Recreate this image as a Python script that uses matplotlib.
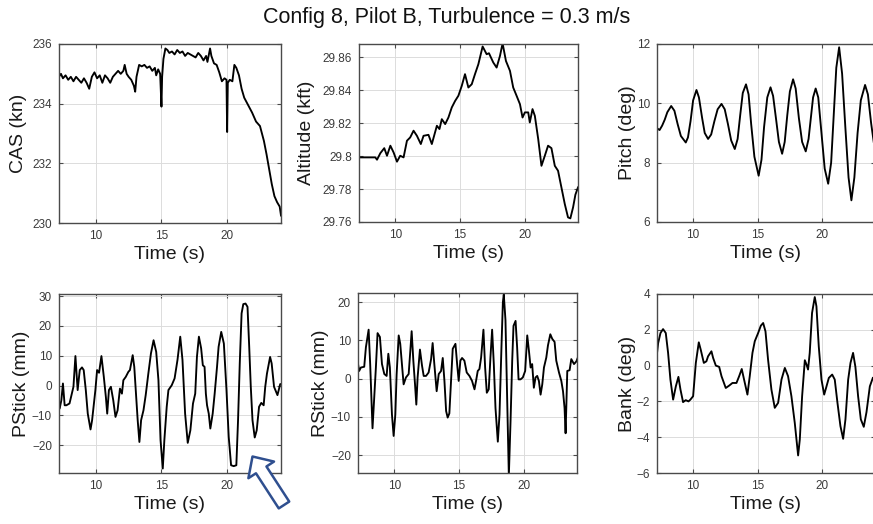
import matplotlib
matplotlib.use('Agg')
import matplotlib.pyplot as plt
from matplotlib.patches import FancyArrowPatch

plt.rcParams['font.family'] = ['Liberation Sans', 'DejaVu Sans']

# ---------------- data ----------------
cas_t = [7.2, 7.35, 7.5, 7.7, 7.9, 8.1, 8.3, 8.5, 8.7, 8.9, 9.1, 9.3, 9.5, 9.7, 9.9, 10.1, 10.3, 10.5,
         10.7, 10.9, 11.1, 11.3, 11.5, 11.7, 11.9, 12.1, 12.2, 12.35, 12.5, 12.7, 12.9, 13.0, 13.1, 13.3,
         13.5, 13.7, 13.9, 14.1, 14.3, 14.5, 14.6, 14.75, 14.9, 15.0, 15.05, 15.15, 15.3, 15.45, 15.6,
         15.8, 16.0, 16.2, 16.4, 16.6, 16.8, 17.0, 17.2, 17.4, 17.6, 17.8, 18.0, 18.2, 18.4, 18.5, 18.7,
         18.8, 19.0, 19.2, 19.4, 19.6, 19.8, 19.95, 20.0, 20.05, 20.2, 20.4, 20.55, 20.7, 20.9, 21.1,
         21.3, 21.6, 21.9, 22.2, 22.5, 22.8, 23.0, 23.2, 23.4, 23.6, 23.8, 24.0, 24.1]
cas_v = [234.9, 235.0, 234.85, 234.95, 234.8, 234.9, 234.75, 234.9, 234.8, 234.7, 234.85, 234.7, 234.5,
         234.9, 235.05, 234.85, 234.95, 234.7, 234.95, 234.85, 234.7, 234.9, 235.0, 235.1, 235.0, 235.1,
         235.3, 235.0, 234.9, 234.8, 234.6, 234.4, 234.9, 235.3, 235.25, 235.3, 235.2, 235.25, 235.1,
         235.2, 234.95, 235.15, 235.0, 233.9, 234.9, 235.5, 235.85, 235.8, 235.7, 235.75, 235.65, 235.8,
         235.7, 235.75, 235.6, 235.7, 235.65, 235.6, 235.55, 235.7, 235.6, 235.45, 235.6, 235.4, 235.85,
         235.6, 235.35, 235.3, 235.05, 234.75, 234.85, 234.8, 233.05, 234.7, 234.8, 234.75, 235.3, 235.2,
         234.95, 234.5, 234.2, 233.95, 233.7, 233.4, 233.25, 232.75, 232.3, 231.8, 231.3, 230.9, 230.7,
         230.55, 230.25]

alt_t = [7.23, 8.46, 8.59, 8.85, 9.15, 9.36, 9.62, 9.87, 10.13, 10.38, 10.64, 10.9, 11.15, 11.41, 11.67,
         11.97, 12.18, 12.56, 12.82, 13.21, 13.41, 13.59, 13.85, 14.1, 14.36, 14.62, 14.87, 15.13, 15.38,
         15.64, 15.9, 16.15, 16.41, 16.74, 17.05, 17.23, 17.56, 17.82, 18.08, 18.28, 18.54, 18.85, 19.1,
         19.36, 19.62, 19.82, 20.0, 20.26, 20.38, 20.59, 20.77, 21.03, 21.28, 21.54, 21.79, 22.05, 22.31,
         22.56, 22.82, 23.08, 23.33, 23.51, 23.72, 23.9, 24.1]
alt_v = [29.7992, 29.7992, 29.7978, 29.8018, 29.8048, 29.8002, 29.8063, 29.8022, 29.7966, 29.8002,
         29.7992, 29.8093, 29.8113, 29.8154, 29.8123, 29.8073, 29.8123, 29.8129, 29.8073, 29.8184,
         29.8164, 29.8224, 29.8194, 29.8234, 29.8295, 29.8335, 29.8366, 29.8426, 29.8497, 29.8416,
         29.8436, 29.8497, 29.8557, 29.8665, 29.8618, 29.8624, 29.8568, 29.8537, 29.8608, 29.8684,
         29.8577, 29.8517, 29.8416, 29.8366, 29.8315, 29.8234, 29.8265, 29.8265, 29.8204, 29.8285,
         29.8244, 29.8103, 29.7941, 29.8002, 29.8063, 29.8048, 29.7941, 29.7911, 29.7810, 29.7709,
         29.7628, 29.7622, 29.7689, 29.7766, 29.7810]

pitch_t = [7.2, 7.4, 7.6, 7.8, 8.0, 8.3, 8.55, 8.8, 9.05, 9.43, 9.6, 9.8, 10.0, 10.26, 10.45, 10.7, 10.9,
           11.16, 11.4, 11.65, 11.9, 12.2, 12.45, 12.7, 12.95, 13.23, 13.45, 13.65, 13.85, 14.1, 14.3,
           14.5, 14.75, 15.08, 15.3, 15.5, 15.75, 16.0, 16.2, 16.45, 16.65, 16.9, 17.1, 17.3, 17.5,
           17.75, 17.95, 18.2, 18.45, 18.73, 18.95, 19.15, 19.3, 19.5, 19.7, 19.95, 20.2, 20.47, 20.7,
           20.9, 21.1, 21.32, 21.55, 21.8, 22.05, 22.27, 22.5, 22.75, 23.0, 23.33, 23.55, 23.8, 24.0]
pitch_v = [9.16, 9.10, 9.25, 9.45, 9.7, 9.91, 9.75, 9.3, 8.9, 8.68, 8.85, 9.4, 10.1, 10.45, 10.2, 9.5,
           9.0, 8.8, 8.95, 9.4, 9.8, 9.98, 9.8, 9.3, 8.75, 8.46, 8.8, 9.6, 10.35, 10.64, 10.3, 9.3, 8.2,
           7.56, 8.1, 9.2, 10.2, 10.54, 10.25, 9.4, 8.7, 8.3, 8.7, 9.6, 10.4, 10.81, 10.5, 9.5, 8.7, 8.38,
           8.8, 9.6, 10.2, 10.5, 10.2, 9.0, 7.8, 7.29, 8.0, 9.6, 11.2, 11.89, 11.0, 9.2, 7.5, 6.73, 7.5,
           9.0, 10.1, 10.62, 10.3, 9.33, 8.7]

pst_t = [7.2, 7.25, 7.38, 7.5, 7.63, 7.76, 8.0, 8.3, 8.45, 8.62, 8.78, 8.95, 9.08, 9.24, 9.39, 9.6, 9.72,
         9.97, 10.1, 10.25, 10.43, 10.61, 10.77, 10.87, 11.0, 11.15, 11.33, 11.5, 11.66, 11.84, 11.99,
         12.1, 12.28, 12.48, 12.6, 12.81, 12.93, 13.06, 13.19, 13.32, 13.45, 13.63, 13.8, 14.0, 14.2,
         14.4, 14.6, 14.77, 14.93, 15.1, 15.22, 15.4, 15.53, 15.78, 16.0, 16.22, 16.43, 16.6, 16.8,
         17.0, 17.2, 17.4, 17.57, 17.7, 17.85, 18.02, 18.15, 18.28, 18.38, 18.47, 18.6, 18.72, 18.9,
         19.05, 19.23, 19.35, 19.55, 19.75, 19.95, 20.12, 20.3, 20.5, 20.7, 20.83, 20.96, 21.1, 21.23,
         21.4, 21.55, 21.68, 21.8, 21.93, 22.1, 22.25, 22.43, 22.6, 22.78, 22.9, 23.03, 23.27, 23.39,
         23.57, 23.83, 24.04, 24.1]
pst_v = [-7.5, -7.7, -4.9, 0.7, -6.6, -6.6, -6.0, -0.4, 9.9, -1.5, 5.2, 6.1, 5.2, -1.5, -9.4, -14.7,
         -11.6, -1.5, 5.2, 4.3, 9.9, 3.0, -3.9, -9.4, -1.5, -0.4, -4.9, -10.5, -8.3, -1.0, -2.7, 1.8, 2.9,
         4.6, 5.2, 10.2, 6.3, -2.7, -11.6, -18.9, -11.6, -8.3, -3.2, 4.0, 10.8, 15.2, 11.3, 1.8, -18.3,
         -27.8, -18.3, -7.1, -1.5, 0.1, 2.4, 8.6, 16.4, 8.6, -9.4, -19.2, -15.0, -6.0, -2.7, 9.6, 16.4,
         12.5, 6.8, 6.3, -2.7, -6.6, -9.4, -14.4, -9.4, -2.7, 6.3, 13.0, 18.0, 14.1, -1.5, -17.2, -26.7,
         -27.0, -26.7, -11.6, 7.4, 24.2, 27.3, 27.5, 26.4, 13.0, -0.4, -11.6, -17.4, -15.0, -7.1, -5.8,
         -6.6, -0.4, 4.0, 9.6, 7.4, -0.4, -3.2, 0.5, 0.5]

rst_t = [7.16, 7.29, 7.42, 7.68, 7.81, 8.02, 8.14, 8.32, 8.45, 8.58, 8.71, 8.89, 9.05, 9.23, 9.41, 9.54,
         9.66, 9.82, 9.95, 10.08, 10.18, 10.34, 10.46, 10.59, 10.72, 10.9, 11.11, 11.24, 11.34, 11.47,
         11.6, 11.7, 11.8, 11.98, 12.14, 12.27, 12.45, 12.65, 12.84, 12.96, 13.09, 13.27, 13.43, 13.61,
         13.74, 13.87, 14.0, 14.12, 14.25, 14.38, 14.51, 14.72, 14.85, 14.97, 15.1, 15.23, 15.41, 15.59,
         15.8, 16.0, 16.19, 16.31, 16.44, 16.57, 16.7, 16.88, 17.01, 17.14, 17.29, 17.42, 17.55, 17.68,
         17.81, 17.99, 18.12, 18.27, 18.38, 18.45, 18.58, 18.71, 18.84, 18.97, 19.1, 19.2, 19.36, 19.48,
         19.59, 19.74, 19.92, 20.1, 20.26, 20.39, 20.52, 20.64, 20.77, 20.9, 21.03, 21.16, 21.29, 21.42,
         21.55, 21.73, 21.86, 22.04, 22.19, 22.37, 22.5, 22.71, 22.89, 23.02, 23.14, 23.22, 23.35, 23.53,
         23.66, 23.87, 24.05, 24.2]
rst_v = [4.7, 2.0, 2.9, 3.1, 8.2, 12.8, 3.8, -13.0, -5.1, 2.9, 11.9, 10.9, 3.8, 1.2, 0.7, 6.5, 2.9, -9.4,
         -15.0, -9.4, 1.1, 11.3, 9.1, 3.8, -1.5, 0.3, 1.2, 7.4, 12.4, 4.7, -1.5, -6.8, 0.3, 7.6, 3.4, 0.7,
         0.7, 1.6, 5.1, 9.3, 3.8, -3.3, 1.2, 2.0, 5.4, -0.6, -8.5, -10.2, -9.1, -0.6, 7.8, 9.1, 3.8, -0.6,
         4.7, 5.4, 4.7, 1.6, 0.7, -0.6, -2.8, -0.6, 2.0, 2.5, 5.5, 12.8, 2.9, -3.7, -2.8, 5.5, 12.8, 3.8,
         -7.7, -16.5, -9.4, 8.2, 20.0, 22.0, 15.3, -5.1, -25.4, -11.3, 4.7, 13.8, 15.1, 8.2, -0.2, -0.2,
         0.3, 2.0, 11.3, 7.3, 2.9, 3.8, -2.4, 0.3, 0.7, -0.6, -4.2, -1.5, 2.9, 5.5, 8.7, 11.6, 10.4, 9.6,
         4.7, 1.6, -0.6, -3.3, -7.7, -14.3, 2.0, 2.2, 5.1, 3.8, 4.5, 5.8]

bank_t = [7.16, 7.29, 7.47, 7.67, 7.88, 8.06, 8.24, 8.45, 8.66, 8.86, 9.02, 9.22, 9.43, 9.64, 9.79, 10.0,
          10.21, 10.44, 10.59, 10.83, 11.03, 11.16, 11.42, 11.55, 11.76, 12.02, 12.2, 12.53, 12.79,
          13.05, 13.36, 13.57, 13.77, 13.95, 14.21, 14.39, 14.6, 14.78, 15.04, 15.25, 15.43, 15.61,
          15.81, 16.07, 16.33, 16.59, 16.85, 17.11, 17.36, 17.62, 17.88, 18.14, 18.27, 18.45, 18.66,
          18.79, 18.91, 19.04, 19.22, 19.43, 19.56, 19.74, 19.95, 20.16, 20.34, 20.52, 20.78, 20.98,
          21.19, 21.42, 21.63, 21.81, 22.02, 22.2, 22.4, 22.58, 22.79, 23.0, 23.23, 23.44, 23.7, 23.93]
bank_v = [0.43, 1.26, 1.82, 2.04, 1.82, 0.71, -0.78, -1.9, -1.16, -0.63, -1.34, -2.04, -1.93, -2.0, -1.9,
          -1.71, 0.15, 1.3, 0.89, 0.15, 0.24, 0.52, 0.8, 0.43, 0.0, -0.07, -0.59, -1.25, -1.12, -0.97,
          -0.97, -0.59, -0.19, -0.78, -1.62, -0.59, 0.71, 1.36, 1.82, 2.23, 2.38, 1.91, 0.33, -1.34,
          -2.36, -2.08, -0.78, -0.13, -0.59, -1.71, -3.2, -5.02, -4.13, -1.71, 0.3, 0.06, -0.22, 0.71,
          2.94, 3.83, 3.31, 1.08, -0.78, -1.62, -1.16, -0.69, -0.5, -0.78, -2.08, -3.38, -4.09, -3.0,
          -0.78, 0.15, 0.71, -0.07, -1.71, -3.0, -3.42, -2.6, -1.16, -0.69]

x_lim = (7.2, 24.1)
x_ticks = [10, 15, 20]
alt_ticks = [29.76, 29.78, 29.80, 29.82, 29.84, 29.86]
alt_tick_labels = ['29.76', '29.78', '29.8', '29.82', '29.84', '29.86']

panels = [
    # (t, v, ylabel, ylim, yticks, yticklabels, rect[px: left, top, right, bottom], ylabel_x)
    (cas_t, cas_v, 'CAS (kn)', (230, 236), [230, 232, 234, 236], None, (59, 44, 281, 223), -0.145),
    (alt_t, alt_v, 'Altitude (kft)', (29.76, 29.868), alt_ticks, alt_tick_labels, (359, 44, 578, 222), -0.20),
    (pitch_t, pitch_v, 'Pitch (deg)', (6, 12), [6, 8, 10, 12], None, (657, 44, 875, 222), -0.097),
    (pst_t, pst_v, 'PStick (mm)', (-29.3, 30.7), [-20, -10, 0, 10, 20, 30], None, (59, 294, 281, 473), -0.13),
    (rst_t, rst_v, 'RStick (mm)', (-24.7, 22.4), [-20, -10, 0, 10, 20], None, (358, 293, 577, 473), -0.132),
    (bank_t, bank_v, 'Bank (deg)', (-6, 4), [-6, -4, -2, 0, 2, 4], None, (657, 294, 875, 473), -0.097),
]

W, H = 873, 524
fig = plt.figure(figsize=(W / 100, H / 100), dpi=100)
fig.patch.set_facecolor('white')

spine_c = '#4a4a4a'
tick_c = '#3a3a3a'

for t, v, ylab, ylim, yt, ytl, (l, tp, r, b), ylx in panels:
    ax = fig.add_axes([l / W, 1 - b / H, (r - l) / W, (b - tp) / H])
    ax.plot(t, v, color='black', lw=1.35, solid_joinstyle='round')
    ax.set_xlim(*x_lim)
    ax.set_ylim(*ylim)
    ax.set_xticks(x_ticks)
    ax.set_yticks(yt)
    if ytl is not None:
        ax.set_yticklabels(ytl)
    ax.grid(True, color='#dcdcdc', lw=0.7)
    ax.set_axisbelow(True)
    for s in ax.spines.values():
        s.set_color(spine_c)
        s.set_linewidth(1.0)
    ax.tick_params(direction='in', length=3, width=0.8, color=spine_c,
                   labelsize=8.5, labelcolor=tick_c, pad=5, top=True, right=True)
    ax.set_xlabel('Time (s)', fontsize=14, color='#1a1a1a', labelpad=3)
    ax.set_ylabel(ylab, fontsize=14, color='#1a1a1a')
    ax.yaxis.set_label_coords(ylx, 0.5)

fig.text(447 / W, 1 - 18 / H, 'Config 8, Pilot B, Turbulence = 0.3 m/s',
         ha='center', va='center', fontsize=15.5, color='#111111')

# hollow arrow annotation
arrow = FancyArrowPatch((284 / W, 1 - 505 / H), (252.5 / W, 1 - 456.5 / H),
                        transform=fig.transFigure,
                        arrowstyle='simple,head_length=11.5,head_width=22,tail_width=9',
                        mutation_scale=1, shrinkA=0, shrinkB=0,
                        facecolor='white', edgecolor='#2f4f8f', lw=1.8)
fig.patches.append(arrow)

fig.savefig('out.png', dpi=100)
